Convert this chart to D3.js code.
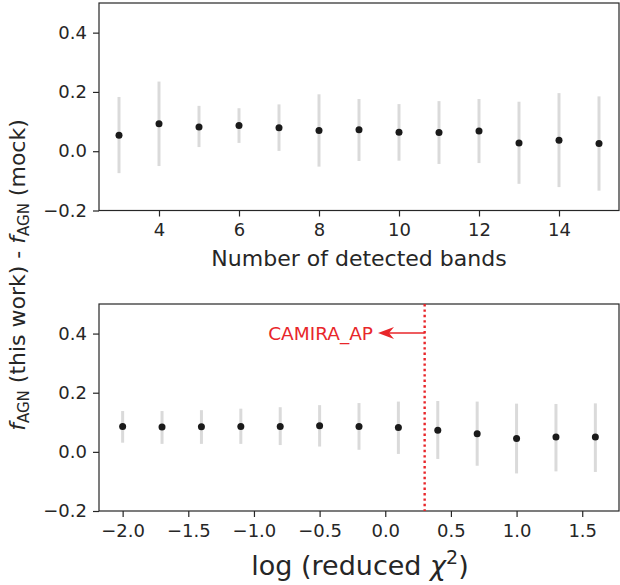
<!DOCTYPE html>
<html>
<head>
<meta charset="utf-8">
<script src="https://cdn.jsdelivr.net/npm/d3@7"></script>
<style>
  body { margin: 0; background: #fff; }
  svg { display: block; font-family: "DejaVu Sans", sans-serif; }
  .axis text { font-size: 18px; fill: #262626; font-family: "DejaVu Sans", sans-serif; }
  .axis path, .axis line { stroke: #262626; stroke-width: 1.2; }
</style>
</head>
<body>
<div id="chart"></div>
<script>
// top panel: number of detected bands
const bands = [3, 4, 5, 6, 7, 8, 9, 10, 11, 12, 13, 14, 15];
const bandMean = [0.054, 0.093, 0.082, 0.087, 0.079, 0.070, 0.072, 0.064, 0.063, 0.068, 0.028, 0.037, 0.026];
const bandHi = [0.183, 0.235, 0.153, 0.145, 0.158, 0.192, 0.176, 0.159, 0.169, 0.176, 0.167, 0.196, 0.185];
const bandLo = [-0.074, -0.050, 0.014, 0.028, 0.001, -0.052, -0.033, -0.032, -0.043, -0.040, -0.110, -0.121, -0.133];

// bottom panel: log reduced chi2
const chi = [-2.0, -1.7, -1.4, -1.1, -0.8, -0.5, -0.2, 0.1, 0.4, 0.7, 1.0, 1.3, 1.6];
const chiMean = [0.086, 0.084, 0.085, 0.086, 0.086, 0.088, 0.086, 0.082, 0.073, 0.061, 0.045, 0.050, 0.050];
const chiHi = [0.138, 0.138, 0.141, 0.146, 0.151, 0.158, 0.165, 0.170, 0.172, 0.170, 0.163, 0.162, 0.164];
const chiLo = [0.031, 0.027, 0.027, 0.027, 0.023, 0.018, 0.007, -0.007, -0.024, -0.047, -0.073, -0.066, -0.068];

const yTicks = [-0.2, 0.0, 0.2, 0.4];
const bandTicks = [4, 6, 8, 10, 12, 14];
const chiTicks = [-2.0, -1.5, -1.0, -0.5, 0.0, 0.5, 1.0, 1.5];
const cutValue = 0.3;

const width = 620, height = 585;
const svg = d3.select("#chart").append("svg")
  .attr("width", width).attr("height", height);

const left = 99, right = 619;
const minus = s => s.replace("-", "\u2212");

function panel(top, bottom, xDomain, xs, mean, lo, hi, xTicks, fmt) {
  const x = d3.scaleLinear().domain(xDomain).range([left, right]);
  const y = d3.scaleLinear().domain([-0.2, 0.5]).range([bottom, top]);
  const g = svg.append("g");

  g.append("g").attr("class", "axis")
    .attr("transform", `translate(0,${bottom})`)
    .call(d3.axisBottom(x).tickValues(xTicks).tickFormat(fmt).tickSize(6).tickPadding(7))
    .call(s => s.select(".domain").remove());
  g.append("g").attr("class", "axis")
    .attr("transform", `translate(${left},0)`)
    .call(d3.axisLeft(y).tickValues(yTicks).tickFormat(d => minus(d3.format(".1f")(d))).tickSize(6).tickPadding(6))
    .call(s => s.select(".domain").remove());

  // frame
  g.append("rect")
    .attr("x", left).attr("y", top)
    .attr("width", right - left).attr("height", bottom - top)
    .attr("fill", "none").attr("stroke", "#262626").attr("stroke-width", 1.2);

  g.append("g").selectAll("line")
    .data(xs)
    .join("line")
    .attr("x1", d => x(d)).attr("x2", d => x(d))
    .attr("y1", (d, i) => y(lo[i])).attr("y2", (d, i) => y(hi[i]))
    .attr("stroke", "#dadada").attr("stroke-width", 3);

  g.append("g").selectAll("circle")
    .data(xs)
    .join("circle")
    .attr("cx", d => x(d)).attr("cy", (d, i) => y(mean[i]))
    .attr("r", 3.5).attr("fill", "#1a1a1a");

  return { x, y, g };
}

panel(3, 210.5, [2.5, 15.5], bands, bandMean, bandLo, bandHi, bandTicks, d3.format("d"));
const bot = panel(304, 511, [-2.18, 1.78], chi, chiMean, chiLo, chiHi, chiTicks,
  d => minus(d3.format(".1f")(d)));

// cut line + annotation
const red = "#e8262a";
const xc = bot.x(cutValue);
bot.g.append("line")
  .attr("x1", xc).attr("x2", xc)
  .attr("y1", 304).attr("y2", 511)
  .attr("stroke", red).attr("stroke-width", 2.4)
  .attr("stroke-dasharray", "2.4,3");

const ya = bot.y(0.4) - 0.5;
bot.g.append("line")
  .attr("x1", xc).attr("x2", 381)
  .attr("y1", ya).attr("y2", ya)
  .attr("stroke", red).attr("stroke-width", 1.6);
bot.g.append("path")
  .attr("d", `M378,${ya} L394,${ya - 6} L389,${ya} L394,${ya + 6} Z`)
  .attr("fill", red);
bot.g.append("text")
  .attr("x", 373).attr("y", ya)
  .attr("dy", "0.36em")
  .attr("text-anchor", "end")
  .attr("fill", red).attr("font-size", 18.5)
  .text("CAMIRA_AP");

// axis labels
svg.append("text")
  .attr("x", 359).attr("y", 265.5)
  .attr("text-anchor", "middle")
  .attr("font-size", 22).attr("fill", "#262626")
  .text("Number of detected bands");

const xl = svg.append("text")
  .attr("x", 360).attr("y", 575)
  .attr("text-anchor", "middle")
  .attr("font-size", 27).attr("fill", "#262626");
xl.append("tspan").text("log (reduced ");
xl.append("tspan").attr("font-style", "italic").text("\u03c7");
xl.append("tspan").attr("font-size", 19).attr("dy", -11).text("2");
xl.append("tspan").attr("dy", 11).text(")");

const yl = svg.append("text")
  .attr("transform", "translate(25,275) rotate(-90)")
  .attr("text-anchor", "middle")
  .attr("font-size", 22).attr("fill", "#262626");
yl.append("tspan").attr("font-style", "italic").text("f");
yl.append("tspan").attr("font-size", 15).attr("dy", 4).text("AGN");
yl.append("tspan").attr("dy", -4).text(" (this work) - ");
yl.append("tspan").attr("font-style", "italic").text("f");
yl.append("tspan").attr("font-size", 15).attr("dy", 4).text("AGN");
yl.append("tspan").attr("dy", -4).text(" (mock)");
</script>
</body>
</html>
